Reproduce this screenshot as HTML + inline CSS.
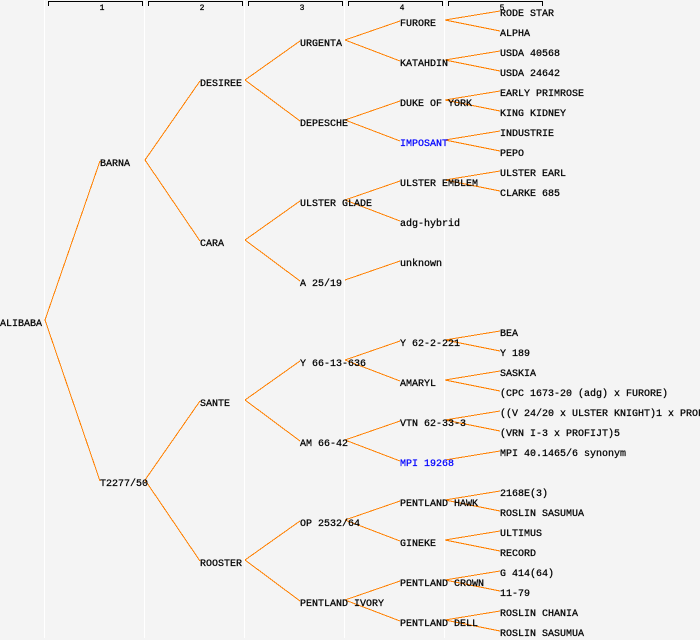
<!DOCTYPE html>
<html><head><meta charset="utf-8"><style>
html,body{margin:0;padding:0;background:#f4f4f4;width:700px;height:640px;overflow:hidden}
svg{display:block}
text{font-family:"Liberation Mono","DejaVu Sans Mono",monospace;font-size:10px;fill:#000;stroke:#000;stroke-width:0.25}
.b{fill:#0000ff;stroke:#0000ff}
.n{font-size:8px}
</style></head><body>
<svg width="700" height="640" xmlns="http://www.w3.org/2000/svg">
<rect width="700" height="640" fill="#f4f4f4"/>
<g stroke="#fff" stroke-width="1" shape-rendering="crispEdges">
<line x1="44.5" y1="0" x2="44.5" y2="638"/><line x1="144.5" y1="0" x2="144.5" y2="638"/><line x1="244.5" y1="0" x2="244.5" y2="638"/><line x1="344.5" y1="0" x2="344.5" y2="638"/><line x1="444.5" y1="0" x2="444.5" y2="638"/>
</g>
<g stroke="#000" stroke-width="1" fill="none" shape-rendering="crispEdges">
<polyline points="48.5,6 48.5,1.5 142.5,1.5 142.5,6"/>
<polyline points="148.5,6 148.5,1.5 242.5,1.5 242.5,6"/>
<polyline points="248.5,6 248.5,1.5 342.5,1.5 342.5,6"/>
<polyline points="348.5,6 348.5,1.5 442.5,1.5 442.5,6"/>
<polyline points="448.5,6 448.5,1.5 542.5,1.5 542.5,6"/>
</g>
<g text-anchor="middle">
<text class="n" x="102" y="10">1</text><text class="n" x="202" y="10">2</text><text class="n" x="302" y="10">3</text><text class="n" x="402" y="10">4</text><text class="n" x="502" y="10">5</text>
</g>
<g stroke="#ff8000" stroke-width="1" fill="none" shape-rendering="crispEdges">
<path d="M45,320L100,161M45,320L100,481
M145,160L200,81M145,160L200,241M145,480L200,401M145,480L200,561
M245,80L300,41M245,80L300,121M245,240L300,201M245,240L300,281M245,400L300,361M245,400L300,441M245,560L300,521M245,560L300,601
M345,40L400,21M345,40L400,61M345,120L400,101M345,120L400,141M345,200L400,181M345,200L400,221M345,280L400,261
M345,360L400,341M345,360L400,381M345,440L400,421M345,440L400,461M345,520L400,501M345,520L400,541M345,600L400,581M345,600L400,621
M445,20L500,11M445,20L500,31M445,60L500,51M445,60L500,71M445,100L500,91M445,100L500,111M445,140L500,131M445,140L500,151M445,180L500,171M445,180L500,191
M445,340L500,331M445,340L500,351M445,380L500,371M445,380L500,391M445,420L500,411M445,420L500,431M445,460L500,451
M445,500L500,491M445,500L500,511M445,540L500,531M445,540L500,551M445,580L500,571M445,580L500,591M445,620L500,611M445,620L500,631"/>
</g>
<text x="0" y="326">ALIBABA</text>
<text x="100" y="166">BARNA</text><text x="100" y="486">T2277/50</text>
<text x="200" y="86">DESIREE</text><text x="200" y="246">CARA</text><text x="200" y="406">SANTE</text><text x="200" y="566">ROOSTER</text>
<text x="300" y="46">URGENTA</text><text x="300" y="126">DEPESCHE</text><text x="300" y="206">ULSTER GLADE</text><text x="300" y="286">A 25/19</text><text x="300" y="366">Y 66-13-636</text><text x="300" y="446">AM 66-42</text><text x="300" y="526">OP 2532/64</text><text x="300" y="606">PENTLAND IVORY</text>
<text x="400" y="26">FURORE</text><text x="400" y="66">KATAHDIN</text><text x="400" y="106">DUKE OF YORK</text><text class="b" x="400" y="146">IMPOSANT</text><text x="400" y="186">ULSTER EMBLEM</text><text x="400" y="226">adg-hybrid</text><text x="400" y="266">unknown</text>
<text x="400" y="346">Y 62-2-221</text><text x="400" y="386">AMARYL</text><text x="400" y="426">VTN 62-33-3</text><text class="b" x="400" y="466">MPI 19268</text><text x="400" y="506">PENTLAND HAWK</text><text x="400" y="546">GINEKE</text><text x="400" y="586">PENTLAND CROWN</text><text x="400" y="626">PENTLAND DELL</text>
<text x="500" y="16">RODE STAR</text><text x="500" y="36">ALPHA</text><text x="500" y="56">USDA 40568</text><text x="500" y="76">USDA 24642</text><text x="500" y="96">EARLY PRIMROSE</text><text x="500" y="116">KING KIDNEY</text><text x="500" y="136">INDUSTRIE</text><text x="500" y="156">PEPO</text><text x="500" y="176">ULSTER EARL</text><text x="500" y="196">CLARKE 685</text>
<text x="500" y="336">BEA</text><text x="500" y="356">Y 189</text><text x="500" y="376">SASKIA</text><text x="500" y="396">(CPC 1673-20 (adg) x FURORE)</text><text x="500" y="416">((V 24/20 x ULSTER KNIGHT)1 x PROFIJT</text><text x="500" y="436">(VRN I-3 x PROFIJT)5</text><text x="500" y="456">MPI 40.1465/6 synonym</text>
<text x="500" y="496">2168E(3)</text><text x="500" y="516">ROSLIN SASUMUA</text><text x="500" y="536">ULTIMUS</text><text x="500" y="556">RECORD</text><text x="500" y="576">G 414(64)</text><text x="500" y="596">11-79</text><text x="500" y="616">ROSLIN CHANIA</text><text x="500" y="636">ROSLIN SASUMUA</text>
</svg>
</body></html>
